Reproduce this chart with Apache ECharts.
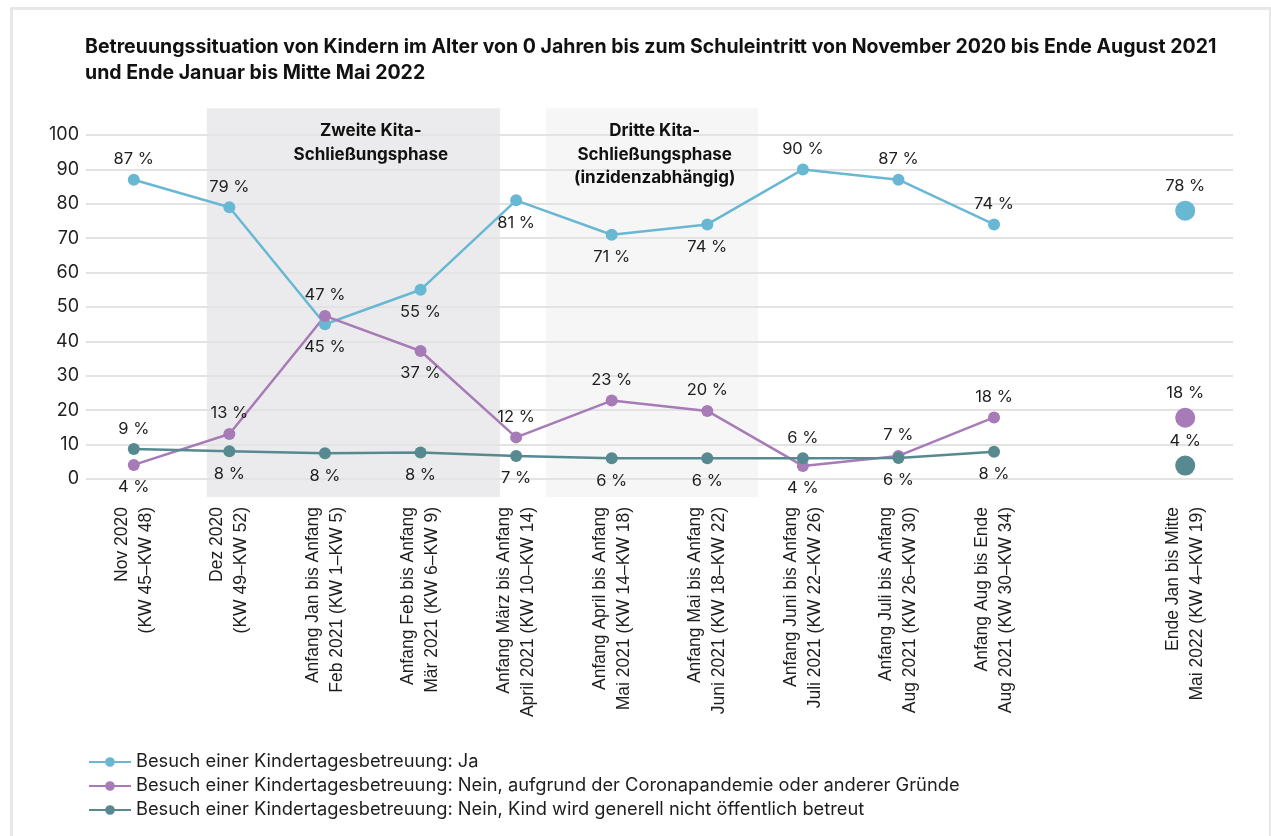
<!DOCTYPE html>
<html>
<head>
<meta charset="utf-8">
<script src="https://cdn.jsdelivr.net/npm/echarts@6/dist/echarts.min.js"></script>
<style>
    html, body { margin: 0; padding: 0; background: #fff; }
    #frame { position: absolute; left: 10px; top: 7px; width: 1256px; height: 900px; border: 3px solid #e7e7e7; }
    #chart { position: absolute; left: 0; top: 0; width: 1271px; height: 836px; }
</style>
</head>
<body>
<div id="frame"></div>
<div id="chart"></div>
<script>
const categories = [
    'Nov 2020\n(KW 45–KW 48)',
    'Dez 2020\n(KW 49–KW 52)',
    'Anfang Jan bis Anfang\nFeb 2021 (KW 1–KW 5)',
    'Anfang Feb bis Anfang\nMär 2021 (KW 6–KW 9)',
    'Anfang März bis Anfang\nApril 2021 (KW 10–KW 14)',
    'Anfang April bis Anfang\nMai 2021 (KW 14–KW 18)',
    'Anfang Mai bis Anfang\nJuni 2021 (KW 18–KW 22)',
    'Anfang Juni bis Anfang\nJuli 2021 (KW 22–KW 26)',
    'Anfang Juli bis Anfang\nAug 2021 (KW 26–KW 30)',
    'Anfang Aug bis Ende\nAug 2021 (KW 30–KW 34)',
    '',
    'Ende Jan bis Mitte\nMai 2022 (KW 4–KW 19)'
]
const jaValues = [87, 79, 45, 55, 81, 71, 74, 90, 87, 74, null, 78]
const coronaValues = [4.1, 13.1, 47.4, 37.2, 12.1, 22.8, 19.8, 3.8, 6.7, 17.9, null, 17.8]
const generellValues = [8.7, 8.1, 7.5, 7.7, 6.7, 6.0, 6.0, 6.0, 6.1, 7.9, null, 3.9]
const yTicks = [0, 10, 20, 30, 40, 50, 60, 70, 80, 90, 100]
const seriesNames = [
    'Besuch einer Kindertagesbetreuung: Ja',
    'Besuch einer Kindertagesbetreuung: Nein, aufgrund der Coronapandemie oder anderer Gründe',
    'Besuch einer Kindertagesbetreuung: Nein, Kind wird generell nicht öffentlich betreut'
]

// where each value label sits (above / below the dot)
const jaLabelPos = ['top', 'top', 'bottom', 'bottom', 'bottom', 'bottom', 'bottom', 'top', 'top', 'top', 'top', 'top']
const coronaLabelPos = ['bottom', 'top', 'top', 'bottom', 'top', 'top', 'top', 'bottom', 'top', 'top', 'top', 'top']
const generellLabelPos = ['top', 'bottom', 'bottom', 'bottom', 'bottom', 'bottom', 'bottom', 'top', 'bottom', 'bottom', 'top', 'top']

// shaded phases, in category units
const phases = [
    { text: 'Zweite Kita-\nSchließungsphase', from: 0.764, to: 3.83, textAt: 2.48, color: '#ebebed' },
    { text: 'Dritte Kita-\nSchließungsphase\n(inzidenzabhängig)', from: 4.31, to: 6.53, textAt: 5.45, color: '#f6f6f6' }
]

const labelFont = 'Inter'
const spotIndex = categories.length - 1

function buildData(values, pos) {
    return values.map((v, i) => {
        if (v == null) return null
        const item = { value: v, label: { position: pos[i], distance: pos[i] === 'top' ? 6 : 8 } }
        if (i === spotIndex) item.symbolSize = 20
        return item
    })
}

function makeSeries(name, values, pos, color) {
    return {
        name: name,
        type: 'line',
        data: buildData(values, pos),
        symbol: 'circle',
        symbolSize: 12,
        color: color,
        lineStyle: { width: 2.5, color: color },
        itemStyle: { color: color },
        label: {
            show: true,
            fontFamily: labelFont,
            fontSize: 16.5,
            color: '#1e1e1e',
            formatter: p => Math.round(p.value) + ' %'
        },
        emphasis: { disabled: true },
        z: 3
    }
}

let chart = echarts.init(document.getElementById('chart'))
chart.setOption({
    animation: false,
    title: {
        text: 'Betreuungssituation von Kindern im Alter von 0 Jahren bis zum Schuleintritt von November 2020 bis Ende August 2021\nund Ende Januar bis Mitte Mai 2022',
        left: 80,
        top: 29,
        textStyle: {
            fontFamily: labelFont,
            fontSize: 19.5,
            fontWeight: 'bold',
            lineHeight: 26,
            color: '#111'
        }
    },
    grid: { left: 86, top: 135, width: 1147, height: 344 },
    legend: {
        orient: 'vertical',
        left: 83,
        top: 748,
        itemWidth: 42,
        itemHeight: 12,
        itemGap: 6,
        textStyle: { fontFamily: labelFont, fontSize: 18.3, color: '#1e1e1e' },
        data: seriesNames
    },
    xAxis: {
        type: 'category',
        data: categories,
        boundaryGap: true,
        axisLine: { show: false },
        axisTick: { show: false },
        axisLabel: {
            rotate: 90,
            interval: 0,
            margin: 28,
            fontFamily: 'Liberation Sans',
            fontSize: 17.5,
            lineHeight: 24,
            color: '#1e1e1e'
        }
    },
    yAxis: {
        type: 'value',
        min: yTicks[0],
        max: yTicks[yTicks.length - 1],
        interval: yTicks[1] - yTicks[0],
        axisLine: { show: false },
        axisTick: { show: false },
        axisLabel: { fontFamily: labelFont, fontSize: 18, color: '#1e1e1e', margin: 7 },
        splitLine: { lineStyle: { color: '#e3e3e3', width: 2 } }
    },
    series: [
        makeSeries(seriesNames[0], jaValues, jaLabelPos, '#69b8d3'),
        makeSeries(seriesNames[1], coronaValues, coronaLabelPos, '#a67bb7'),
        makeSeries(seriesNames[2], generellValues, generellLabelPos, '#568990')
    ]
})

// phase backgrounds drawn from the axis positions
const p0 = chart.convertToPixel({ gridIndex: 0 }, [0, 0])
const p1 = chart.convertToPixel({ gridIndex: 0 }, [1, 100])
const step = p1[0] - p0[0]
const perUnit = (p1[1] - p0[1]) / 100
const xAt = i => p0[0] + i * step
const yAt = v => p0[1] + v * perUnit

let graphics = []
phases.forEach(ph => {
    graphics.push({
        type: 'rect',
        z: -10,
        silent: true,
        shape: { x: xAt(ph.from), y: yAt(107.8), width: xAt(ph.to) - xAt(ph.from), height: yAt(-5.2) - yAt(107.8) },
        style: { fill: ph.color }
    })
    graphics.push({
        type: 'text',
        z: 5,
        silent: true,
        x: xAt(ph.textAt),
        y: yAt(104.6),
        style: {
            text: ph.text,
            align: 'center',
            verticalAlign: 'top',
            fontFamily: labelFont,
            fontWeight: 'bold',
            fontSize: 17,
            lineHeight: 23.5,
            fill: '#111'
        }
    })
})
chart.setOption({ graphic: graphics })
</script>
</body>
</html>
